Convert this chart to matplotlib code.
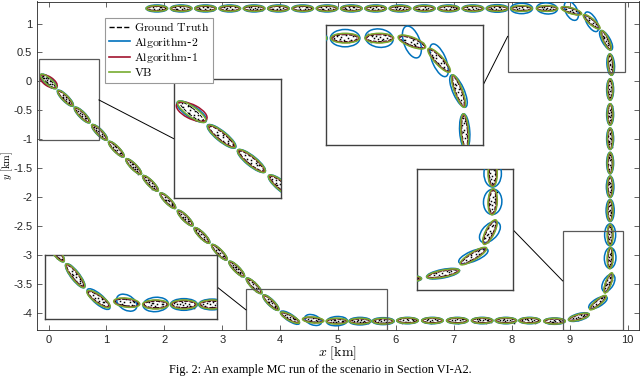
import numpy as np
import matplotlib
matplotlib.use('Agg')
import matplotlib.pyplot as plt
from matplotlib.patches import Ellipse, Rectangle
from matplotlib.lines import Line2D

plt.rcParams['mathtext.fontset'] = 'cm'

# ---- DATA --------------------------------------------------------------
# ground truth centres [km] and heading of the extent [deg]
gt_x = [0.00, 0.29, 0.58, 0.88, 1.17, 1.47, 1.76, 2.06, 2.36, 2.65, 2.95, 3.25, 3.55, 3.84,
        4.17, 4.57, 4.98, 5.38, 5.78, 6.20, 6.63, 7.06, 7.49, 7.90, 8.31, 8.74,
        9.16, 9.49, 9.67, 9.70, 9.70, 9.70, 9.70, 9.70, 9.70, 9.70, 9.70, 9.71,
        9.63, 9.38, 9.03, 8.61, 8.17, 7.75, 7.33, 6.91, 6.49, 6.07, 5.65, 5.23,
        4.81, 4.39, 3.97, 3.55, 3.13, 2.71, 2.29, 1.87]
gt_y = [0.00, -0.29, -0.58, -0.88, -1.17, -1.47, -1.76, -2.06, -2.36, -2.66, -2.95, -3.24, -3.53, -3.82,
        -4.08, -4.12, -4.14, -4.14, -4.14, -4.13, -4.13, -4.13, -4.13, -4.13, -4.13, -4.14,
        -4.07, -3.82, -3.48, -3.05, -2.65, -2.23, -1.82, -1.41, -0.99, -0.57, -0.14, 0.29,
        0.71, 1.03, 1.22, 1.26, 1.26, 1.26, 1.26, 1.26, 1.26, 1.26, 1.26, 1.26,
        1.26, 1.26, 1.26, 1.26, 1.26, 1.26, 1.26, 1.26]
gt_ang = [-45, -45, -45, -45, -45, -45, -45, -45, -45, -45, -45, -45, -45, -44,
          -28, -5, 0, 0, 0, 0, 0, 0, 0, 0, 0, 0,
          15, 40, 70, 88, 90, 90, 90, 90, 90, 90, 90, 95,
          115, 140, 163, 180, 180, 180, 180, 180, 180, 180, 180, 180,
          180, 180, 180, 180, 180, 180, 180, 180]
GT_LEN, GT_WID = 0.32, 0.07

# measurement pattern inside the extent (normalised to the semi axes)
meas_u = [-0.85, -0.6, -0.45, -0.2, -0.05, 0.1, 0.3, 0.45, 0.65, 0.9, -0.3, 0.55]
meas_v = [0.2, -0.5, 0.6, 0.1, -0.8, 0.7, -0.3, 0.4, -0.6, 0.1, 1.0, -1.1]

# Algorithm-2 (blue): full width [km], length [km], angle offset [deg]
alg2_wid = [0.13, 0.11, 0.11, 0.11, 0.10, 0.10, 0.10, 0.10, 0.10, 0.10, 0.10, 0.10, 0.10, 0.11,
            0.12, 0.17, 0.16, 0.13, 0.12, 0.11, 0.11, 0.11, 0.11, 0.11, 0.11, 0.11,
            0.12, 0.14, 0.18, 0.20, 0.19, 0.14, 0.13, 0.12, 0.12, 0.12, 0.12, 0.13,
            0.14, 0.17, 0.20, 0.19, 0.18, 0.13, 0.12, 0.12, 0.12, 0.12, 0.12, 0.12,
            0.12, 0.12, 0.12, 0.12, 0.12, 0.12, 0.12, 0.12]
alg2_len = [0.36, 0.38, 0.37, 0.37, 0.37, 0.37, 0.37, 0.37, 0.37, 0.37, 0.37, 0.37, 0.37, 0.37,
            0.38, 0.30, 0.36, 0.38, 0.38, 0.37, 0.37, 0.37, 0.37, 0.37, 0.37, 0.37,
            0.37, 0.36, 0.33, 0.36, 0.38, 0.38, 0.37, 0.37, 0.37, 0.37, 0.37, 0.37,
            0.38, 0.38, 0.36, 0.36, 0.38, 0.38, 0.37, 0.37, 0.37, 0.37, 0.37, 0.37,
            0.37, 0.37, 0.37, 0.37, 0.37, 0.37, 0.37, 0.37]
alg2_dang = [5, 0, 0, 0, 0, 0, 0, 0, 0, 0, 0, 0, 0, 0,
             -5, -15, 3, 0, 0, 0, 0, 0, 0, 0, 0, 0,
             0, -10, -10, 0, 0, 0, 0, 0, 0, 0, 0, 0,
             5, -20, -45, -5, 0, 0, 0, 0, 0, 0, 0, 0,
             0, 0, 0, 0, 0, 0, 0, 0]
# Algorithm-1 (red)
alg1_wid = [0.16] + [0.09] * 57
alg1_len = [0.34] + [0.35] * 57
alg1_dang = [12] + [0] * 57
# VB (green)
vb_wid = [0.11] + [0.10] * 57
vb_len = [0.36] + [0.37] * 57
vb_dang = [3] + [0] * 57

# zoom regions (source rect in data, inset rect in data): x0, y0, x1, y1
zoom_src = [(-0.17, -1.02, 0.87, 0.38), (3.41, -4.30, 5.85, -3.59),
            (7.93, 0.155, 9.95, 1.40), (8.88, -4.30, 9.92, -2.59)]
zoom_dst = [(2.17, -2.02, 4.02, 0.034), (-0.064, -4.10, 2.91, -3.0),
            (4.80, -1.09, 7.51, 0.98), (6.37, -3.60, 8.02, -1.52)]

C_ALG2 = (0.0, 0.447, 0.741)
C_ALG1 = (0.635, 0.078, 0.184)
C_VB = (0.466, 0.674, 0.188)
AXC = (0.15, 0.15, 0.15)


def draw_scene(ax):
    mu = np.array(meas_u)
    mv = np.array(meas_v)
    for k in range(len(gt_x)):
        cx, cy, a = gt_x[k], gt_y[k], gt_ang[k]
        ax.add_patch(Ellipse((cx, cy), GT_LEN, GT_WID, angle=a, fill=False,
                             ec='k', lw=0.7, ls='--', zorder=2))
        th = np.deg2rad(a)
        u = np.roll(mu, k) * GT_LEN / 2
        v = np.roll(mv, 3 * k) * GT_WID / 2
        px = cx + u * np.cos(th) - v * np.sin(th)
        py = cy + u * np.sin(th) + v * np.cos(th)
        ax.plot(px, py, 's', ms=1.1, color='k', mew=0, zorder=2.5)
        ax.add_patch(Ellipse((cx, cy), alg2_len[k], alg2_wid[k], angle=a + alg2_dang[k],
                             fill=False, ec=C_ALG2, lw=1.1, zorder=3))
        ax.add_patch(Ellipse((cx, cy), alg1_len[k], alg1_wid[k], angle=a + alg1_dang[k],
                             fill=False, ec=C_ALG1, lw=1.1, zorder=3.1))
        ax.add_patch(Ellipse((cx, cy), vb_len[k], vb_wid[k], angle=a + vb_dang[k],
                             fill=False, ec=C_VB, lw=1.1, zorder=3.2))


fig = plt.figure(figsize=(6.4, 3.76), dpi=100)
ax = fig.add_axes([37 / 640, 46 / 376, 601.5 / 640, 328.5 / 376])
draw_scene(ax)
ax.set_xlim(-0.2, 10.19)
ax.set_ylim(-4.293, 1.38)
ax.set_xticks(range(0, 11))
ax.set_yticks(np.arange(-4, 1.01, 0.5))
ax.set_yticklabels(['-4', '-3.5', '-3', '-2.5', '-2', '-1.5', '-1', '-0.5', '0', '0.5', '1'])
ax.tick_params(direction='in', top=True, right=True, length=3.5, width=0.5,
               colors=AXC, labelsize=8, pad=3.5)
for lab in ax.get_xticklabels() + ax.get_yticklabels():
    lab.set_fontfamily('Liberation Sans')
for s in ax.spines.values():
    s.set_color(AXC)
    s.set_linewidth(0.6)
ax.set_xlabel(r'$x\ [\mathrm{km}]$', fontsize=10, labelpad=0, color='k')
ax.set_ylabel(r'$y\ [\mathrm{km}]$', fontsize=7.5, color='k', va='center')
ax.yaxis.set_label_coords(-0.0492, 0.5)

handles = [Line2D([], [], color='k', ls='--', lw=1.0),
           Line2D([], [], color=C_ALG2, lw=1.2),
           Line2D([], [], color=C_ALG1, lw=1.2),
           Line2D([], [], color=C_VB, lw=1.2)]
labels = [r'$\mathrm{Ground\ Truth}$', r'$\mathrm{Algorithm}$-$2$',
          r'$\mathrm{Algorithm}$-$1$', r'$\mathrm{VB}$']
leg = ax.legend(handles, labels, loc='upper left', bbox_to_anchor=(0.113, 0.951),
                borderaxespad=0, fontsize=8.5, handlelength=1.8, handletextpad=0.35,
                labelspacing=0.12, borderpad=0.3, fancybox=False, framealpha=1)
leg.get_frame().set_edgecolor((0.6, 0.6, 0.6))
leg.get_frame().set_linewidth(0.8)

for src, dst in zip(zoom_src, zoom_dst):
    axin = ax.inset_axes([dst[0], dst[1], dst[2] - dst[0], dst[3] - dst[1]],
                         transform=ax.transData)
    draw_scene(axin)
    axin.set_xlim(src[0], src[2])
    axin.set_ylim(src[1], src[3])
    axin.set_xticks([])
    axin.set_yticks([])
    for s in axin.spines.values():
        s.set_color((0.25, 0.25, 0.25))
        s.set_linewidth(1.0)
    ax.add_patch(Rectangle((src[0], src[1]), src[2] - src[0], src[3] - src[1],
                           fill=False, ec=(0.35, 0.35, 0.35), lw=0.9, zorder=4))
    if dst[0] > src[2]:
        p0 = (src[2], (src[1] + src[3]) / 2)
        p1 = (dst[0], (dst[1] + dst[3]) / 2)
    else:
        p0 = (dst[2], (dst[1] + dst[3]) / 2)
        p1 = (src[0], (src[1] + src[3]) / 2)
    ax.plot([p0[0], p1[0]], [p0[1], p1[1]], color='k', lw=0.7, zorder=4)

fig.text(0.5, 0.2 / 376, 'Fig. 2: An example MC run of the scenario in Section VI-A2.',
         ha='center', va='bottom', fontsize=8.8, family='Liberation Serif')

fig.savefig('out.png', dpi=100)
